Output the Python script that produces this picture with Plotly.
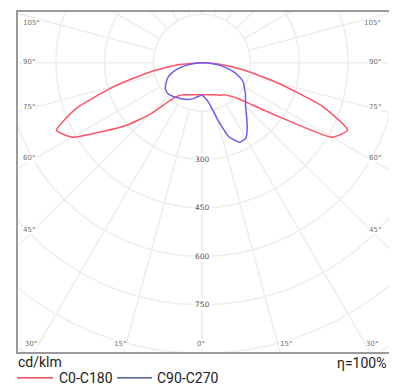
import numpy as np
import plotly.graph_objects as go

# ---- data (cd/klm) ----
gamma = [0, 5, 10, 15, 20, 25, 30, 35, 40, 45, 50, 55, 60, 65, 70, 75, 80, 85, 90]
c0_vals   = [100, 100, 101, 103, 106, 110, 116, 121, 135, 158, 205, 295, 462, 495, 395, 240, 130, 50, 0]
c180_vals = [100, 100, 101, 103, 106, 110, 115, 125, 152, 225, 300, 370, 462, 495, 410, 275, 160, 75, 0]
c90_vals  = [100, 110, 128, 179, 245, 272, 270, 243, 213, 190, 175, 163, 150, 140, 120, 95, 65, 35, 0]
c270_vals = [100, 104, 110, 116, 121, 125, 129, 132, 137, 141, 142, 138, 128, 118, 103, 80, 52, 25, 0]

grid_radii = [150, 300, 450, 600, 750, 900, 1050, 1200]
spoke_angles = list(range(0, 181, 15))
radial_ticks = [300, 450, 600, 750]
side_labels = ["105°", "90°", "75°", "60°", "45°"]
bottom_labels = ["30°", "15°", "0°", "15°", "30°"]
series_names = ["C0-C180", "C90-C270"]

# ---- geometry helpers ----
def to_xy(angles_deg, radii, side):
    a = np.radians(np.asarray(angles_deg, dtype=float))
    r = np.asarray(radii, dtype=float)
    return side * r * np.sin(a), -r * np.cos(a)

def closed_curve(left_vals, right_vals):
    xl, yl = to_xy(gamma[::-1], left_vals[::-1], -1)
    xr, yr = to_xy(gamma, right_vals, 1)
    return np.concatenate([xl, xr[1:]]), np.concatenate([yl, yr[1:]])

# window-pixel layout (page body has an 8px margin)
OFF = 8
WW, WH = 397, 388
FW, FH = WW - OFF, WH - OFF
L, R, T, B = 18, 389, 10, 352       # plot box in window pixels
CX, CY = 202, 61                     # polar centre in window pixels
K = 48.7 / 150.0                     # px per cd/klm
xr_ = [(L - CX) / K, (R - CX) / K]
yr_ = [-(B - CY) / K, (CY - T) / K]

fig = go.Figure()
gcol = "#eeeeee"
t = np.linspace(0, 2 * np.pi, 721)
for rr in grid_radii:
    fig.add_trace(go.Scatter(x=rr * np.sin(t), y=-rr * np.cos(t), mode="lines",
                             line=dict(color=gcol, width=1.6), hoverinfo="skip"))
for a in spoke_angles:
    for s in (-1, 1):
        x, y = to_xy([a, a], [150, 1400], s)
        fig.add_trace(go.Scatter(x=x, y=y, mode="lines",
                                 line=dict(color=gcol, width=1.6), hoverinfo="skip"))

x, y = closed_curve(c180_vals, c0_vals)
fig.add_trace(go.Scatter(x=x, y=y, mode="lines", name=series_names[0],
                         line=dict(color="#ff5468", width=1.5, shape="spline", smoothing=0.5)))
x, y = closed_curve(c270_vals, c90_vals)
fig.add_trace(go.Scatter(x=x, y=y, mode="lines", name=series_names[1],
                         line=dict(color="#6a5cf2", width=1.5, shape="spline", smoothing=0.5)))

def px(xp):
    return (xp - L) / (R - L)

def py(yp):
    return (B - yp) / (B - T)

ann = []
lab_font = dict(family="DejaVu Sans", size=7, color="#707070")
side_y = [21.5, 60.5, 106, 157, 229]
for lab, yy in zip(side_labels, side_y):
    ann.append(dict(x=px(22), y=py(yy), xref="paper", yref="paper", text=lab, showarrow=False,
                    xanchor="left", yanchor="middle", font=lab_font, bgcolor="white", borderpad=0))
    ann.append(dict(x=px(382), y=py(yy), xref="paper", yref="paper", text=lab, showarrow=False,
                    xanchor="right", yanchor="middle", font=lab_font, bgcolor="white", borderpad=0))
bottom_x = [31, 119.5, 201, 285.5, 372]
for lab, xx in zip(bottom_labels, bottom_x):
    ann.append(dict(x=px(xx), y=py(343.5), xref="paper", yref="paper", text=lab, showarrow=False,
                    xanchor="center", yanchor="middle", font=lab_font, bgcolor="white", borderpad=0))
for rt in radial_ticks:
    ann.append(dict(x=0, y=-rt, xref="x", yref="y", text=str(rt), showarrow=False,
                    xanchor="center", yanchor="middle",
                    font=dict(family="DejaVu Sans", size=7.5, color="#505050"),
                    bgcolor="white", borderpad=1))

txt_font = dict(family="Roboto", size=14, color="#222222")
ann.append(dict(x=px(16), y=py(362.5), xref="paper", yref="paper", text="cd/klm",
                showarrow=False, xanchor="left", yanchor="middle", font=txt_font))
ann.append(dict(x=px(388), y=py(363.5), xref="paper", yref="paper", text="η=100%",
                showarrow=False, xanchor="right", yanchor="middle", font=txt_font))
ann.append(dict(x=px(57), y=py(378.5), xref="paper", yref="paper", text=series_names[0],
                showarrow=False, xanchor="left", yanchor="middle", font=txt_font))
ann.append(dict(x=px(155), y=py(378.5), xref="paper", yref="paper", text=series_names[1],
                showarrow=False, xanchor="left", yanchor="middle", font=txt_font))

shapes = [
    dict(type="line", xref="paper", yref="paper", x0=px(17), x1=px(53), y0=py(378), y1=py(378),
         line=dict(color="#e3262f", width=1.3)),
    dict(type="line", xref="paper", yref="paper", x0=px(117), x1=px(152), y0=py(378), y1=py(378),
         line=dict(color="#27367f", width=1.3)),
]

fig.update_layout(
    width=FW, height=FH,
    margin=dict(l=L - OFF, r=WW - R, t=T - OFF, b=WH - B),
    paper_bgcolor="white", plot_bgcolor="white",
    showlegend=False, hovermode=False,
    annotations=ann, shapes=shapes,
    xaxis=dict(range=xr_, showgrid=False, zeroline=False, showticklabels=False, ticks="",
               showline=True, mirror=True, linecolor="#9a9a9a", linewidth=1.5, fixedrange=True),
    yaxis=dict(range=yr_, showgrid=False, zeroline=False, showticklabels=False, ticks="",
               showline=True, mirror=True, linecolor="#9a9a9a", linewidth=1.5, fixedrange=True),
)
fig.write_html("out.html")
